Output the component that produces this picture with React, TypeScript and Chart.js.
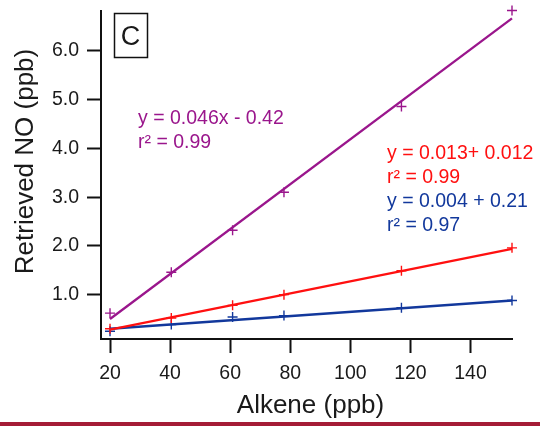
import React, { useEffect, useRef } from "react";
import { Chart, registerables } from "chart.js";

Chart.register(...registerables);

// ---- data ----
const alkene = [20, 40.4, 60.8, 77.9, 117, 153.8];
const purpleNO = [0.62, 1.46, 2.32, 3.1, 4.86, 6.83];
const redNO = [0.3, 0.52, 0.78, 1.0, 1.49, 1.96];
const blueNO = [0.25, 0.385, 0.54, 0.57, 0.73, 0.88];
const fitX = [20, 153.8];
const purpleFit = [0.5, 6.67];
const redFit = [0.28, 1.94];
const blueFit = [0.3, 0.88];
const xTicks = [20, 40, 60, 80, 100, 120, 140];
const yTicks = [1, 2, 3, 4, 5, 6];
const purpleEq = ["y = 0.046x - 0.42", "r² = 0.99"];
const redEq = ["y = 0.013+ 0.012", "r² = 0.99"];
const blueEq = ["y = 0.004 + 0.21", "r² = 0.97"];
const panelLabel = "C";
const xTitle = "Alkene (ppb)";
const yTitle = "Retrieved NO (ppb)";

const PURPLE = "#9A168C";
const RED = "#FF1010";
const BLUE = "#12389C";
const FONT = "'Liberation Sans', Arial, sans-serif";
const INK = "#1a1a1a";

const toPts = (xs: number[], ys: number[]) => xs.map((x, i) => ({ x, y: ys[i] }));

const decorPlugin = {
  id: "decor",
  afterDraw(chart: any) {
    const ctx = chart.ctx as CanvasRenderingContext2D;
    ctx.save();
    // panel label box
    ctx.strokeStyle = "#111";
    ctx.lineWidth = 1.5;
    ctx.strokeRect(114.5, 13.5, 33, 44);
    ctx.fillStyle = INK;
    ctx.font = `27px ${FONT}`;
    ctx.textAlign = "center";
    ctx.textBaseline = "alphabetic";
    ctx.fillText(panelLabel, 130.5, 45);

    // equations
    ctx.textAlign = "left";
    ctx.font = `19.5px ${FONT}`;
    const eq = (lines: string[], color: string, x: number, y0: number) => {
      ctx.fillStyle = color;
      lines.forEach((t, i) => ctx.fillText(t, x, y0 + i * 24));
    };
    eq(purpleEq, PURPLE, 138, 124);
    eq(redEq, RED, 387, 159);
    eq(blueEq, BLUE, 387, 207);

    // axis titles
    ctx.fillStyle = INK;
    ctx.font = `26px ${FONT}`;
    ctx.textAlign = "center";
    ctx.fillText(xTitle, 310.5, 413);
    ctx.save();
    ctx.translate(33, 161.5);
    ctx.rotate(-Math.PI / 2);
    ctx.fillText(yTitle, 0, 0);
    ctx.restore();

    // bottom rule
    ctx.fillStyle = "#A51C36";
    ctx.fillRect(0, 422, 540, 4);
    ctx.restore();
  },
};

export default function App() {
  const ref = useRef<HTMLCanvasElement | null>(null);
  useEffect(() => {
    if (!ref.current) return;
    const pointDs = (label: string, ys: number[], color: string) => ({
      label,
      data: toPts(alkene, ys),
      showLine: false,
      pointStyle: "cross",
      pointRadius: 5,
      pointBorderWidth: 1.4,
      borderColor: color,
      backgroundColor: color,
      clip: false,
    });
    const lineDs = (label: string, ys: number[], color: string) => ({
      label,
      data: toPts(fitX, ys),
      showLine: true,
      pointRadius: 0,
      borderWidth: 2.3,
      borderColor: color,
      backgroundColor: color,
      clip: false,
    });
    const chart = new Chart(ref.current, {
      type: "scatter",
      data: {
        datasets: [
          lineDs("purple fit", purpleFit, PURPLE),
          lineDs("red fit", redFit, RED),
          lineDs("blue fit", blueFit, BLUE),
          pointDs("purple", purpleNO, PURPLE),
          pointDs("red", redNO, RED),
          pointDs("blue", blueNO, BLUE),
        ] as any,
      },
      options: {
        animation: false,
        responsive: true,
        maintainAspectRatio: false,
        layout: { padding: { left: 0, top: 11, right: 28, bottom: 0 } },
        plugins: { legend: { display: false }, tooltip: { enabled: false } },
        scales: {
          x: {
            type: "linear",
            min: 17,
            max: 153.8,
            afterBuildTicks: (s: any) => {
              s.ticks = xTicks.map((v) => ({ value: v }));
            },
            afterFit: (s: any) => {
              s.height = 87;
              s.paddingLeft = 0;
              s.paddingRight = 0;
              s.paddingTop = 0;
              s.paddingBottom = 0;
            },
            grid: {
              drawOnChartArea: false,
              drawTicks: true,
              tickLength: 14,
              tickWidth: 2,
              tickColor: "#111",
            },
            border: { display: true, color: "#111", width: 2 },
            ticks: {
              color: INK,
              font: { family: FONT, size: 19.5 },
              padding: 9,
              maxRotation: 0,
              autoSkip: false,
            },
          },
          y: {
            type: "linear",
            min: 0.09,
            max: 6.82,
            afterBuildTicks: (s: any) => {
              s.ticks = yTicks.map((v) => ({ value: v }));
            },
            afterFit: (s: any) => {
              s.width = 101;
              s.paddingLeft = 0;
              s.paddingRight = 0;
              s.paddingTop = 0;
              s.paddingBottom = 0;
            },
            grid: {
              drawOnChartArea: false,
              drawTicks: true,
              tickLength: 14,
              tickWidth: 2,
              tickColor: "#111",
            },
            border: { display: true, color: "#111", width: 2 },
            ticks: {
              color: INK,
              font: { family: FONT, size: 19.5 },
              padding: 8,
              autoSkip: false,
              callback: (v: any) => Number(v).toFixed(1),
            },
          },
        },
      },
      plugins: [decorPlugin],
    });
    return () => chart.destroy();
  }, []);
  return (
    <div style={{ position: "absolute", left: 0, top: 0, width: 540, height: 426, background: "#fff" }}>
      <canvas ref={ref} />
    </div>
  );
}
